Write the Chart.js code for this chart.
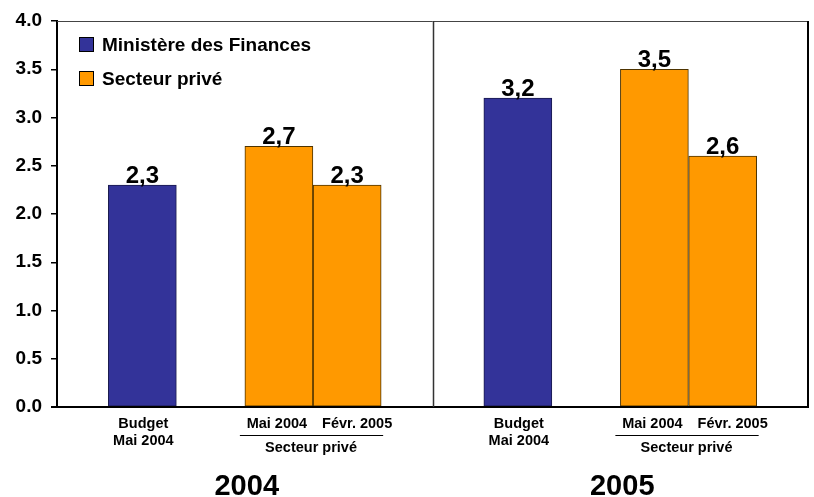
<!DOCTYPE html>
<html>
<head>
<meta charset="utf-8">
<script src="https://cdn.jsdelivr.net/npm/chart.js@4/dist/chart.umd.min.js"></script>
<style>
  html, body { margin: 0; padding: 0; background: #fff; }
  canvas { display: block; }
</style>
</head>
<body>
<canvas id="chart" width="814" height="497"></canvas>
<script>
// données
const years = ['2004', '2005'];
const budgetLabel = ['Budget', 'Mai 2004'];
const priveLabels = ['Mai 2004', 'Févr. 2005'];
const groupLabel = 'Secteur privé';
const seriesNames = ['Ministère des Finances', 'Secteur privé'];
const ministereValues = [2.3, 3.2];        // budget 2004, budget 2005
const priveValues = [2.7, 2.3, 3.5, 2.6];  // 2004: mai, févr. / 2005: mai, févr.
const yTicks = [0, 0.5, 1, 1.5, 2, 2.5, 3, 3.5, 4];

// mise en page (unités de l'axe x, un panneau par année)
const PANEL = 5.5;
const BUDGET_SLOT = 1.25;
const PRIVE_SLOTS = [3.25, 4.25];

const BLUE = '#333399';
const ORANGE = '#FF9900';
const FONT = '"Liberation Sans", Arial, sans-serif';

const ministereData = ministereValues.map((v, i) => ({ x: i * PANEL + BUDGET_SLOT, y: v }));
const priveData = priveValues.map((v, i) => ({
  x: Math.floor(i / 2) * PANEL + PRIVE_SLOTS[i % 2],
  y: v
}));

// étiquettes de valeurs au-dessus des barres
const valueLabels = {
  id: 'valueLabels',
  afterDatasetsDraw(chart) {
    const ctx = chart.ctx;
    ctx.save();
    ctx.font = 'bold 24px ' + FONT;
    ctx.fillStyle = '#000';
    ctx.textAlign = 'center';
    ctx.textBaseline = 'alphabetic';
    chart.data.datasets.forEach((ds, di) => {
      chart.getDatasetMeta(di).data.forEach((bar, i) => {
        const txt = ds.data[i].y.toFixed(1).replace('.', ',');
        ctx.fillText(txt, bar.x, bar.y - 2);
      });
    });
    ctx.restore();
  }
};

// cadre, séparateur, légende et libellés sous l'axe
const decorations = {
  id: 'decorations',
  afterDraw(chart) {
    const ctx = chart.ctx;
    const a = chart.chartArea;
    const xs = chart.scales.x;
    ctx.save();

    // cadre
    ctx.strokeStyle = '#444';
    ctx.lineWidth = 1;
    ctx.beginPath();
    ctx.moveTo(a.left, a.top + 0.5);
    ctx.lineTo(a.right, a.top + 0.5);
    ctx.stroke();
    ctx.strokeStyle = '#000';
    ctx.lineWidth = 2;
    ctx.beginPath();
    ctx.moveTo(a.right, a.top);
    ctx.lineTo(a.right, a.bottom);
    ctx.moveTo(a.left - 6, a.bottom);
    ctx.lineTo(a.right + 1, a.bottom);
    ctx.stroke();

    // séparateur entre années
    const xd = Math.round(xs.getPixelForValue(PANEL)) + 0.5;
    ctx.strokeStyle = '#333';
    ctx.lineWidth = 1.5;
    ctx.beginPath();
    ctx.moveTo(xd, a.top);
    ctx.lineTo(xd, a.bottom);
    ctx.stroke();

    // légende
    ctx.font = 'bold 19px ' + FONT;
    ctx.textAlign = 'left';
    ctx.textBaseline = 'alphabetic';
    chart.data.datasets.forEach((ds, i) => {
      const y = 37 + i * 34;
      ctx.fillStyle = ds.backgroundColor;
      ctx.fillRect(79, y, 15, 15);
      ctx.strokeStyle = '#000';
      ctx.lineWidth = 1;
      ctx.strokeRect(79.5, y + 0.5, 14, 14);
      ctx.fillStyle = '#000';
      ctx.fillText(ds.label, 102, y + 14);
    });

    // libellés de catégories
    ctx.textAlign = 'center';
    years.forEach((yr, p) => {
      ctx.font = 'bold 14.5px ' + FONT;
      const xb = xs.getPixelForValue(p * PANEL + BUDGET_SLOT);
      budgetLabel.forEach((t, k) => ctx.fillText(t, xb + 1, 428 + k * 17));
      const x0 = xs.getPixelForValue(p * PANEL + PRIVE_SLOTS[0]);
      const x1 = xs.getPixelForValue(p * PANEL + PRIVE_SLOTS[1]);
      ctx.fillText(priveLabels[0], x0 - 2, 428);
      ctx.fillText(priveLabels[1], x1 + 10, 428);
      ctx.strokeStyle = '#000';
      ctx.lineWidth = 1;
      ctx.beginPath();
      ctx.moveTo(x0 - 39, 435.5);
      ctx.lineTo(x1 + 36, 435.5);
      ctx.stroke();
      ctx.fillText(groupLabel, (x0 + x1) / 2 - 2, 452);
      ctx.font = 'bold 29px ' + FONT;
      const xc = (xs.getPixelForValue(p * PANEL) + xs.getPixelForValue((p + 1) * PANEL)) / 2;
      ctx.fillText(yr, xc + 2, 495);
    });

    ctx.restore();
  }
};

new Chart(document.getElementById('chart'), {
  type: 'bar',
  data: {
    datasets: [
      {
        label: seriesNames[0],
        data: ministereData,
        backgroundColor: BLUE,
        borderColor: '#1a1a4d',
        borderWidth: 1,
        borderSkipped: false,
        barThickness: 68,
        grouped: false
      },
      {
        label: seriesNames[1],
        data: priveData,
        backgroundColor: ORANGE,
        borderColor: '#4d3300',
        borderWidth: 1,
        borderSkipped: false,
        barThickness: 68,
        grouped: false
      }
    ]
  },
  options: {
    responsive: false,
    animation: false,
    devicePixelRatio: 1,
    layout: { padding: { left: 0, top: 21, right: 6, bottom: 90 } },
    plugins: {
      legend: { display: false },
      tooltip: { enabled: false }
    },
    scales: {
      x: {
        type: 'linear',
        min: 0,
        max: PANEL * years.length,
        offset: false,
        display: false
      },
      y: {
        min: 0,
        max: 4,
        afterBuildTicks: (scale) => { scale.ticks = yTicks.map(v => ({ value: v })); },
        afterFit: (scale) => { scale.width = 57; },
        ticks: {
          padding: 9,
          color: '#000',
          font: { family: FONT, size: 19, weight: 'bold' },
          callback: (v) => Number(v).toFixed(1)
        },
        grid: {
          drawOnChartArea: false,
          drawTicks: true,
          tickLength: 6,
          color: '#000',
          lineWidth: 1.5
        },
        border: { display: true, color: '#000', width: 2 }
      }
    }
  },
  plugins: [valueLabels, decorations]
});
</script>
</body>
</html>
